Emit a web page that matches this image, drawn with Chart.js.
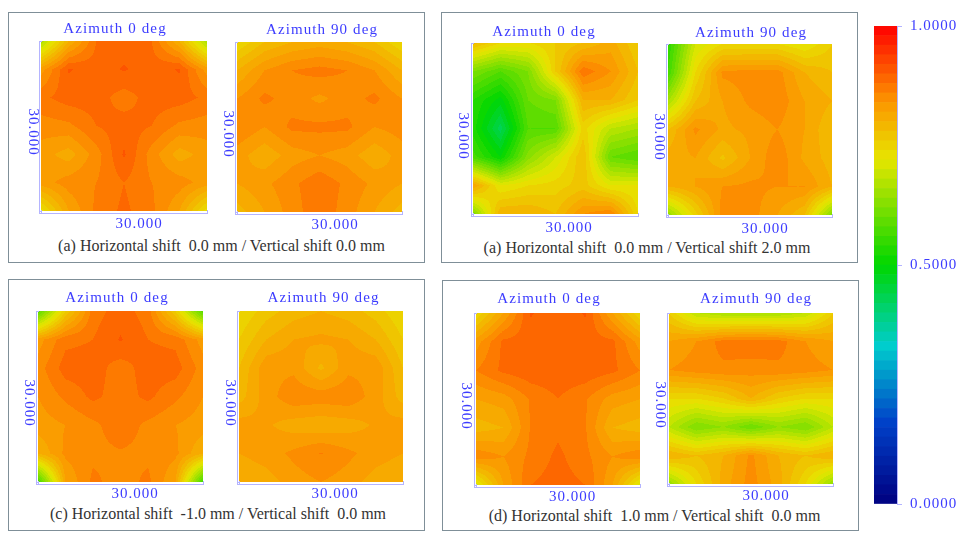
<!DOCTYPE html>
<html>
<head>
<meta charset="utf-8">
<title>Azimuth maps</title>
<script src="https://cdn.jsdelivr.net/npm/chart.js@4"></script>
<style>
	html, body { margin: 0; background: #fff; }
	body { position: relative; width: 968px; height: 541px; overflow: hidden; }
	canvas { position: absolute; }
	.frame { position: absolute; box-sizing: border-box; border: 1px solid #7f8f98; }
	.caption { position: absolute; transform: translate(-50%, -50%); white-space: pre;
		font: 16px "Liberation Serif", serif; color: #333; }
</style>
</head>
<body>
<script>
// grid nodes in mm, rows below run from the top of each map to the bottom
const gridMm = [0, 5, 10, 15, 20, 25, 30];

const a0 = [
	[0.66, 0.80, 0.88, 0.89, 0.88, 0.80, 0.66],
	[0.83, 0.902, 0.89, 0.902, 0.89, 0.902, 0.83],
	[0.875, 0.89, 0.89, 0.87, 0.89, 0.89, 0.875],
	[0.85, 0.855, 0.88, 0.89, 0.88, 0.855, 0.85],
	[0.83, 0.81, 0.85, 0.903, 0.85, 0.81, 0.83],
	[0.83, 0.85, 0.86, 0.88, 0.86, 0.85, 0.83],
	[0.73, 0.82, 0.865, 0.885, 0.865, 0.82, 0.73],
];
const a90 = [
	[0.74, 0.78, 0.80, 0.81, 0.80, 0.78, 0.74],
	[0.80, 0.84, 0.86, 0.868, 0.86, 0.84, 0.80],
	[0.84, 0.865, 0.85, 0.835, 0.85, 0.865, 0.84],
	[0.86, 0.84, 0.865, 0.865, 0.865, 0.84, 0.85],
	[0.83, 0.805, 0.83, 0.84, 0.83, 0.805, 0.83],
	[0.82, 0.835, 0.855, 0.875, 0.855, 0.835, 0.82],
	[0.79, 0.82, 0.85, 0.875, 0.85, 0.82, 0.79],
];
const b0 = [
	[0.79, 0.74, 0.74, 0.76, 0.78, 0.81, 0.76],
	[0.62, 0.58, 0.62, 0.76, 0.875, 0.84, 0.78],
	[0.54, 0.49, 0.60, 0.62, 0.80, 0.80, 0.76],
	[0.53, 0.43, 0.58, 0.58, 0.75, 0.68, 0.66],
	[0.57, 0.50, 0.63, 0.70, 0.78, 0.60, 0.58],
	[0.82, 0.72, 0.74, 0.75, 0.77, 0.72, 0.72],
	[0.62, 0.80, 0.80, 0.78, 0.84, 0.86, 0.74],
];
const b90 = [
	[0.54, 0.70, 0.74, 0.74, 0.74, 0.72, 0.76],
	[0.56, 0.74, 0.845, 0.85, 0.85, 0.80, 0.78],
	[0.66, 0.78, 0.82, 0.845, 0.855, 0.82, 0.80],
	[0.78, 0.845, 0.815, 0.825, 0.84, 0.82, 0.78],
	[0.81, 0.82, 0.775, 0.82, 0.855, 0.815, 0.79],
	[0.80, 0.82, 0.84, 0.845, 0.84, 0.84, 0.80],
	[0.64, 0.75, 0.85, 0.85, 0.82, 0.78, 0.62],
];
const c0 = [
	[0.58, 0.76, 0.87, 0.89, 0.87, 0.76, 0.58],
	[0.83, 0.874, 0.88, 0.902, 0.88, 0.874, 0.83],
	[0.85, 0.89, 0.89, 0.87, 0.89, 0.89, 0.85],
	[0.84, 0.865, 0.885, 0.87, 0.885, 0.865, 0.84],
	[0.83, 0.84, 0.855, 0.872, 0.855, 0.84, 0.83],
	[0.80, 0.845, 0.855, 0.858, 0.855, 0.845, 0.80],
	[0.56, 0.82, 0.865, 0.85, 0.865, 0.82, 0.56],
];
const c90 = [
	[0.74, 0.77, 0.79, 0.80, 0.79, 0.77, 0.74],
	[0.76, 0.80, 0.82, 0.825, 0.82, 0.80, 0.76],
	[0.78, 0.835, 0.835, 0.795, 0.835, 0.835, 0.78],
	[0.79, 0.83, 0.855, 0.852, 0.855, 0.83, 0.79],
	[0.83, 0.823, 0.81, 0.805, 0.81, 0.823, 0.83],
	[0.82, 0.83, 0.845, 0.861, 0.845, 0.83, 0.82],
	[0.80, 0.81, 0.83, 0.84, 0.83, 0.81, 0.80],
];
const d0 = [
	[0.74, 0.82, 0.902, 0.885, 0.902, 0.82, 0.74],
	[0.83, 0.885, 0.89, 0.89, 0.89, 0.885, 0.83],
	[0.86, 0.885, 0.895, 0.895, 0.895, 0.885, 0.86],
	[0.82, 0.83, 0.862, 0.88, 0.862, 0.83, 0.82],
	[0.79, 0.80, 0.862, 0.875, 0.862, 0.80, 0.79],
	[0.855, 0.84, 0.865, 0.885, 0.865, 0.84, 0.855],
	[0.71, 0.82, 0.88, 0.89, 0.88, 0.82, 0.71],
];
const d90 = [
	[0.76, 0.68, 0.66, 0.66, 0.66, 0.68, 0.76],
	[0.82, 0.84, 0.87, 0.875, 0.87, 0.84, 0.82],
	[0.84, 0.85, 0.855, 0.85, 0.855, 0.85, 0.84],
	[0.74, 0.74, 0.76, 0.80, 0.76, 0.74, 0.74],
	[0.68, 0.62, 0.64, 0.60, 0.64, 0.62, 0.68],
	[0.80, 0.78, 0.80, 0.845, 0.80, 0.78, 0.80],
	[0.64, 0.74, 0.81, 0.85, 0.81, 0.74, 0.64],
];

// colour bar: 50 bands and the ramp behind them
const bandEdges = [
	0.00, 0.02, 0.04, 0.06, 0.08, 0.10, 0.12, 0.14, 0.16, 0.18,
	0.20, 0.22, 0.24, 0.26, 0.28, 0.30, 0.32, 0.34, 0.36, 0.38,
	0.40, 0.42, 0.44, 0.46, 0.48, 0.50, 0.52, 0.54, 0.56, 0.58,
	0.60, 0.62, 0.64, 0.66, 0.68, 0.70, 0.72, 0.74, 0.76, 0.78,
	0.80, 0.82, 0.84, 0.86, 0.88, 0.90, 0.92, 0.94, 0.96, 0.98, 1.00,
];
const rampValues = [0, 0.17, 0.33, 0.5, 0.72, 0.84, 1];
const rampRed = [0, 0, 0, 0, 230, 252, 255];
const rampGreen = [0, 65, 205, 215, 230, 150, 0];
const rampBlue = [128, 200, 205, 0, 0, 0, 0];

const blue = '#3c3cff';
const axisBlue = '#b4b4ff';
const textFont = '15px "Liberation Serif", serif';

const rampAt = (v) => {
	let i = 0;
	while (i < rampValues.length - 2 && v > rampValues[i + 1]) i++;
	const t = (v - rampValues[i]) / (rampValues[i + 1] - rampValues[i]);
	const mix = (arr) => Math.round(arr[i] + (arr[i + 1] - arr[i]) * t);
	return [mix(rampRed), mix(rampGreen), mix(rampBlue)];
};

const bandColor = (v) => {
	const band = Math.min(49, Math.max(0, Math.floor(v / 0.02)));
	return rampAt(bandEdges[band] + 0.01);
};

// paints the contour bands pixel by pixel, going through the chart's scales
const contourFill = {
	id: 'contourFill',
	beforeDatasetsDraw(chart) {
		const { ctx, scales: { x, y } } = chart;
		const points = chart.data.datasets[0].data;
		const n = gridMm.length;
		const step = gridMm[1] - gridMm[0];
		const left = Math.round(x.getPixelForValue(0));
		const right = Math.round(x.getPixelForValue(30));
		const top = Math.round(y.getPixelForValue(30));
		const bottom = Math.round(y.getPixelForValue(0));
		const img = ctx.createImageData(right - left, bottom - top);
		for (let py = top; py < bottom; py++) {
			const rowPos = Math.min(n - 1.001, Math.max(0, (30 - y.getValueForPixel(py + 0.5)) / step));
			const r = Math.floor(rowPos);
			const fy = rowPos - r;
			for (let px = left; px < right; px++) {
				const colPos = Math.min(n - 1.001, Math.max(0, x.getValueForPixel(px + 0.5) / step));
				const c = Math.floor(colPos);
				const fx = colPos - c;
				const v00 = points[r * n + c].v;
				const v01 = points[r * n + c + 1].v;
				const v10 = points[(r + 1) * n + c].v;
				const v11 = points[(r + 1) * n + c + 1].v;
				const v = (v00 * (1 - fx) + v01 * fx) * (1 - fy) + (v10 * (1 - fx) + v11 * fx) * fy;
				const col = bandColor(v);
				const o = ((py - top) * (right - left) + (px - left)) * 4;
				img.data[o] = col[0];
				img.data[o + 1] = col[1];
				img.data[o + 2] = col[2];
				img.data[o + 3] = 255;
			}
		}
		ctx.putImageData(img, left, top);
	},
};

// azimuth title, x size label and the y size label which reads downwards
const panelText = {
	id: 'panelText',
	afterDraw(chart, args, opts) {
		const { ctx } = chart;
		ctx.save();
		ctx.font = textFont;
		ctx.fillStyle = blue;
		ctx.textAlign = 'center';
		ctx.textBaseline = 'middle';
		ctx.letterSpacing = '1.1px';
		ctx.fillText(opts.title, opts.titlePos[0], opts.titlePos[1]);
		ctx.letterSpacing = '1px';
		ctx.fillText('30.000', opts.xPos[0], opts.xPos[1]);
		ctx.translate(opts.yPos[0], opts.yPos[1]);
		ctx.rotate(Math.PI / 2);
		ctx.fillText('30.000', 0, 0);
		ctx.restore();
	},
};

// wider letters on the colour bar labels, the chart keeps the setting while it draws
const spacedTicks = {
	id: 'spacedTicks',
	beforeDraw(chart) {
		chart.ctx.letterSpacing = '1px';
	},
};

const endTicks = (scale) => {
	scale.ticks = [{ value: 0 }, { value: 30 }];
};

const axisOptions = (min, max) => ({
	type: 'linear',
	min: min,
	max: max,
	afterBuildTicks: endTicks,
	afterFit: (scale) => {
		if (scale.isHorizontal()) scale.height = 0;
		else scale.width = 0;
	},
	ticks: { display: false },
	border: { color: axisBlue, z: 1 },
	grid: { drawOnChartArea: false, color: axisBlue, tickLength: -3, z: 1 },
});

const drawPanel = (values, title, box, titlePos, xPos, yPos) => {
	const [L, R, T, B] = box;
	const padLeft = 38, padRight = 6, padTop = 25, padBottom = 30;
	const canvas = document.createElement('canvas');
	const left = L - 2 - padLeft;
	const top = T - padTop;
	canvas.width = R - L + 2 + padLeft + padRight;
	canvas.height = B - T + 2 + padTop + padBottom;
	canvas.style.left = left + 'px';
	canvas.style.top = top + 'px';
	document.body.appendChild(canvas);

	const points = [];
	values.forEach((row, r) => row.forEach((v, c) => {
		points.push({ x: gridMm[c], y: gridMm[gridMm.length - 1 - r], v: v });
	}));

	new Chart(canvas, {
		type: 'scatter',
		data: { datasets: [{ label: title, data: points, pointRadius: 0 }] },
		options: {
			responsive: false,
			animation: false,
			devicePixelRatio: 1,
			layout: { padding: { left: padLeft, right: padRight, top: padTop, bottom: padBottom } },
			scales: {
				x: axisOptions(-30 * 2 / (R - L), 30),
				y: axisOptions(-30 * 2 / (B - T), 30),
			},
			plugins: {
				legend: { display: false },
				tooltip: { enabled: false },
				panelText: {
					title: title,
					titlePos: [titlePos[0] - left, titlePos[1] - top],
					xPos: [xPos[0] - left, xPos[1] - top],
					yPos: [yPos[0] - left, yPos[1] - top],
				},
			},
		},
		plugins: [contourFill, panelText],
	});
};

const drawColorBar = () => {
	const canvas = document.createElement('canvas');
	canvas.width = 103;
	canvas.height = 512;
	canvas.style.left = '865px';
	canvas.style.top = '9px';
	document.body.appendChild(canvas);

	const datasets = bandEdges.slice(0, -1).map((lo, i) => {
		const col = rampAt(lo + 0.01);
		return {
			data: [[lo, bandEdges[i + 1]]],
			backgroundColor: `rgb(${col[0]},${col[1]},${col[2]})`,
			categoryPercentage: 1,
			barPercentage: 1,
			grouped: false,
		};
	});

	new Chart(canvas, {
		type: 'bar',
		data: { labels: [''], datasets: datasets },
		options: {
			responsive: false,
			animation: false,
			devicePixelRatio: 1,
			layout: { padding: { left: 9, top: 15, bottom: 6, right: 0 } },
			scales: {
				x: { display: false },
				y: {
					position: 'right',
					min: 0,
					max: 1,
					afterBuildTicks: (scale) => {
						scale.ticks = [{ value: 0 }, { value: 0.5 }, { value: 1 }];
					},
					afterFit: (scale) => { scale.width = 71; },
					ticks: {
						color: blue,
						font: { family: '"Liberation Serif", serif', size: 15 },
						padding: 8,
						callback: (value) => value.toFixed(4),
					},
					border: { color: axisBlue },
					grid: { drawOnChartArea: false, color: axisBlue, tickLength: 5 },
				},
			},
			plugins: { legend: { display: false }, tooltip: { enabled: false } },
		},
		plugins: [spacedTicks],
	});
};

const addFrame = (left, top, right, bottom) => {
	const div = document.createElement('div');
	div.className = 'frame';
	div.style.cssText = `left:${left}px;top:${top}px;width:${right - left}px;height:${bottom - top}px`;
	document.body.appendChild(div);
};

const addCaption = (text, cx, cy) => {
	const div = document.createElement('div');
	div.className = 'caption';
	div.textContent = text;
	div.style.left = cx + 'px';
	div.style.top = cy + 'px';
	document.body.appendChild(div);
};

addFrame(8, 12, 425, 263);
addFrame(441, 12, 858, 263);
addFrame(8, 279, 425, 531);
addFrame(442, 280, 859, 531);

addCaption('(a) Horizontal shift  0.0 mm / Vertical shift 0.0 mm', 221.5, 245.5);
addCaption('(a) Horizontal shift  0.0 mm / Vertical shift 2.0 mm', 647, 248);
addCaption('(c) Horizontal shift  -1.0 mm / Vertical shift  0.0 mm', 218, 514);
addCaption('(d) Horizontal shift  1.0 mm / Vertical shift  0.0 mm', 654.5, 515.5);

drawPanel(a0, 'Azimuth 0 deg', [41, 207, 41, 211], [115, 29], [139, 224], [33, 132]);
drawPanel(a90, 'Azimuth 90 deg', [237, 402, 42, 212], [322, 30], [335, 225], [228, 134]);
drawPanel(b0, 'Azimuth 0 deg', [473, 638, 43, 214], [544, 32], [569, 228], [463, 136]);
drawPanel(b90, 'Azimuth 90 deg', [668, 832, 44, 215], [751, 33], [765, 229], [659, 137]);
drawPanel(c0, 'Azimuth 0 deg', [38, 203, 311, 482], [117, 298], [135, 494], [29, 403]);
drawPanel(c90, 'Azimuth 90 deg', [239, 403, 311, 482], [323.5, 298], [335, 494], [230, 403]);
drawPanel(d0, 'Azimuth 0 deg', [476, 640, 313, 485], [549, 299], [572.5, 497], [466, 406]);
drawPanel(d90, 'Azimuth 90 deg', [669, 833, 313, 484], [756, 299], [766, 496], [660, 405]);

drawColorBar();
</script>
</body>
</html>
